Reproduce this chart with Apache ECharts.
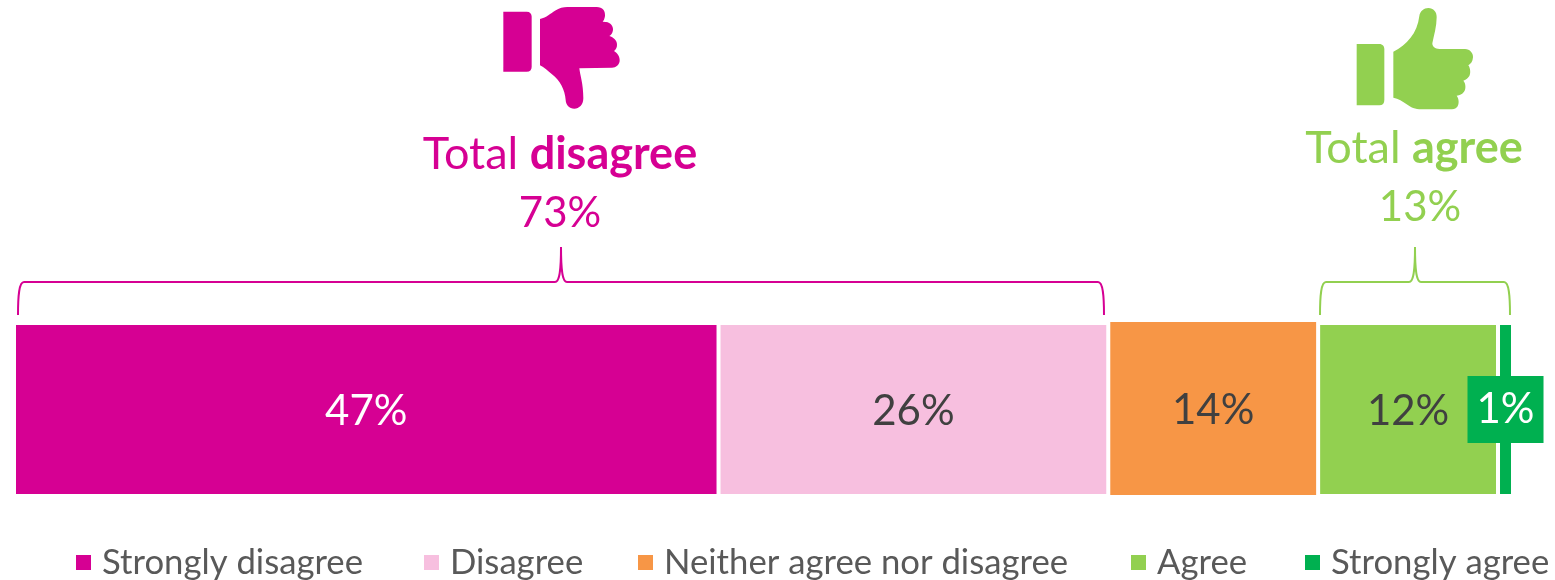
<!DOCTYPE html>
<html>
<head>
<meta charset="utf-8">
<style>html,body{margin:0;padding:0;background:#fff}#chart{width:1555px;height:580px}</style>
<script src="https://cdn.jsdelivr.net/npm/echarts@6/dist/echarts.min.js"></script>
</head>
<body>
<div id="chart"></div>
<script>
// Survey response shares, in percent
const categories = ['Response'];
const responseNames = ['Strongly disagree', 'Disagree', 'Neither agree nor disagree', 'Agree', 'Strongly agree'];
const legendLefts = [74, 422, 636, 1129, 1303];
const stronglyDisagree = [47];
const disagree = [26];
const neither = [14];
const agree = [12];
const stronglyAgree = [1];
const totalDisagree = 73;
const totalAgree = 13;

const FONT = 'Lato';
const MAGENTA = '#D60093', PINK = '#F7BFDF', ORANGE = '#F79646', LIME = '#92D050', GREEN = '#00B050';
const DARK = '#404040', LEGEND_TEXT = '#595959';
const LABEL_SIZE = 42;

const barStyle = color => ({ color, borderColor: '#fff', borderWidth: 2 });
const pct = p => p.value + '%';

function stacked(name, data, color, labelColor, extra) {
  return Object.assign({
    name, type: 'bar', stack: 'share', data, barWidth: '100%',
    itemStyle: barStyle(color),
    label: { show: true, position: 'inside', offset: [0, 2], formatter: pct, color: labelColor, fontFamily: FONT, fontSize: LABEL_SIZE }
  }, extra || {});
}
function spacer(name, data, gridIndex, stack) {
  return {
    name, type: 'bar', stack, data, barWidth: '100%', silent: true,
    xAxisIndex: gridIndex, yAxisIndex: gridIndex,
    itemStyle: { color: 'transparent', borderWidth: 0 }, label: { show: false }
  };
}

// Thumb icons, outlined on a 3x grid and scaled down when placed
const thumbDownCuff = 'M70 35 L140 35 C150 35 155 41 155 50 L155 200 C155 209 150 215 140 215 L70 215 Z';
const thumbDownHand = 'M180 57 C200 52 212 40 225 32 C238 24 250 21 262 21 L350 21 C368 21 376 32 375 48 C374 56 371 62 368 65 L378 66 C392 68 400 78 399 90 C398 100 392 106 388 108 C400 112 412 122 411 134 C411 142 408 148 402 153 C414 160 420 172 419 183 C418 194 408 203 396 203 L298 205 C300 225 310 250 310 295 C310 315 297 326 283 326 C268 326 258 316 257 300 C255 270 240 240 215 222 C205 214 192 202 180 196 Z';
const thumbUpCuff = 'M50 132 L118 132 C128 132 133 139 133 148 L133 300 C133 310 128 316 118 316 L50 316 Z';
const thumbUpHand = 'M160 155 C200 135 232 100 238 48 C240 33 252 24 265 24 C280 24 291 36 290 52 C290 80 282 105 277 130 C277 140 285 147 298 147 L375 147 C390 147 400 160 399 172 C398 185 392 192 385 196 C392 205 392 222 388 228 C383 235 380 238 370 242 C378 250 378 268 372 275 C366 283 360 285 350 287 C357 295 358 312 352 320 C346 327 338 328 330 328 L245 328 C225 328 212 322 200 313 C188 304 175 296 160 293 Z';

// The graphic component only knows registered shapes, so each outline gets its own
let shapeCount = 0;
function pathShape(pathData) {
  const type = 'outline' + (shapeCount++);
  echarts.graphic.registerShape(type, echarts.graphic.extendPath(pathData, {}));
  return type;
}
function icon(pathData, x, y, fill) {
  return { type: pathShape(pathData), x, y, scaleX: 1 / 3, scaleY: 1 / 3, style: { fill, stroke: null }, silent: true };
}
function brace(x0, x1, xm, stroke) {
  const top = 247, bar = 282, foot = 315;
  const d = `M${x0} ${foot} C${x0} ${bar + 14} ${x0 + 1} ${bar} ${x0 + 6} ${bar} L${xm - 6} ${bar} C${xm - 2} ${bar} ${xm} ${bar - 8} ${xm} ${top} C${xm} ${bar - 8} ${xm + 2} ${bar} ${xm + 6} ${bar} L${x1 - 6} ${bar} C${x1 - 1} ${bar} ${x1} ${bar + 14} ${x1} ${foot}`;
  return { type: pathShape(d), style: { fill: 'none', stroke, lineWidth: 2 }, silent: true };
}
function heading(xc, yc, xTotal, bold, total, fill) {
  return [
    { type: 'text', x: xc, y: yc, silent: true,
      style: {
        text: '{a|Total }{b|' + bold + '}', align: 'center', verticalAlign: 'middle',
        rich: {
          a: { fontFamily: FONT, fontSize: 45, fill, fontWeight: 400 },
          b: { fontFamily: FONT, fontSize: 45, fill, fontWeight: 700 }
        }
      } },
    { type: 'text', x: xTotal, y: yc + 59, silent: true,
      style: { text: total + '%', align: 'center', verticalAlign: 'middle', fontFamily: FONT, fontSize: 42, fill } }
  ];
}

const chart = echarts.init(document.getElementById('chart'));
chart.setOption({
  animation: false,
  backgroundColor: '#fff',
  grid: [
    { left: 14, width: 1499, top: 323, height: 173 },
    { left: 14, width: 1499, top: 320, height: 177 }
  ],
  xAxis: [0, 1].map(gridIndex => ({ type: 'value', gridIndex, min: 0, max: 100, show: false })),
  yAxis: [0, 1].map(gridIndex => ({ type: 'category', gridIndex, data: categories, show: false })),
  legend: responseNames.map((name, i) => ({
    data: [name], left: legendLefts[i], top: 545, padding: 0, icon: 'rect', itemWidth: 17, itemHeight: 17, itemGap: 0,
    selectedMode: false,
    textStyle: { fontFamily: FONT, fontSize: 34.7, color: LEGEND_TEXT, padding: [0, 0, 0, 5] }
  })),
  series: [
    stacked(responseNames[0], stronglyDisagree, MAGENTA, '#fff'),
    stacked(responseNames[1], disagree, PINK, DARK),
    spacer('gap', neither, 0, 'share'),
    stacked(responseNames[3], agree, LIME, DARK),
    stacked(responseNames[4], stronglyAgree, GREEN, '#fff', {
      label: { show: true, position: 'inside', formatter: pct, color: '#fff', fontFamily: FONT, fontSize: LABEL_SIZE,
        backgroundColor: GREEN, padding: [12, 9, 13, 9] }
    }),
    spacer('offset', [stronglyDisagree[0] + disagree[0]], 1, 'middle'),
    stacked(responseNames[2], neither, ORANGE, DARK, { stack: 'middle', xAxisIndex: 1, yAxisIndex: 1 })
  ],
  graphic: [
    icon(thumbDownCuff, 480, 0, MAGENTA),
    icon(thumbDownHand, 480, 0, MAGENTA),
    icon(thumbUpCuff, 1340, 0, LIME),
    icon(thumbUpHand, 1340, 0, LIME),
    brace(18, 1104, 561, MAGENTA),
    brace(1320, 1510, 1415, LIME),
    ...heading(560, 154, 560, 'disagree', totalDisagree, MAGENTA),
    ...heading(1414, 148, 1420, 'agree', totalAgree, LIME)
  ]
});
</script>
</body>
</html>
